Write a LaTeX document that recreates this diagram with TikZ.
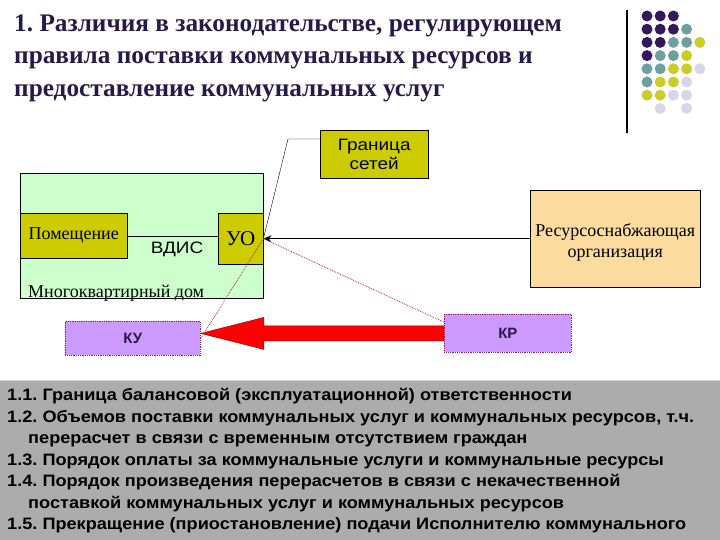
\documentclass[tikz,border=0pt]{standalone}
\usepackage{fontspec}
\setmainfont{Liberation Serif}
\setsansfont{Liberation Sans}
\newfontfamily\widesans[FakeStretch=1.15]{Liberation Sans}
\newfontfamily\listsans[FakeStretch=1.1]{Liberation Sans}
\usetikzlibrary{arrows.meta,calc}

\definecolor{titlecol}{RGB}{38,26,72}
\definecolor{housegreen}{RGB}{204,255,204}
\definecolor{olivefill}{RGB}{204,204,0}
\definecolor{supplyfill}{RGB}{251,219,158}
\definecolor{lilac}{RGB}{204,153,255}
\definecolor{lilacedge}{RGB}{150,30,90}
\definecolor{dotline}{RGB}{180,50,50}
\definecolor{panelgray}{RGB}{172,172,172}
\definecolor{dotP}{RGB}{52,24,92}
\definecolor{dotT}{RGB}{111,160,160}
\definecolor{dotY}{RGB}{204,204,40}
\definecolor{dotL}{RGB}{214,214,232}

\tikzset{
  box/.style={draw, inner sep=0pt, anchor=north west},
  olivebox/.style={box, fill=olivefill},
  lilacbox/.style={box, fill=lilac, draw=lilacedge, densely dotted, thick,
    font=\sffamily\bfseries\fontsize{15}{18}\selectfont, text=titlecol},
  redline/.style={dotline, densely dotted, thick}
}

\begin{document}
\frenchspacing
\begin{tikzpicture}[x=1pt, y=-1pt]
    \fill[white] (0,0) rectangle (720,540);
    \useasboundingbox (0,0) rectangle (720,540);
    % title and corner decoration
    \node[anchor=north west, inner sep=0pt, align=left, text=titlecol,
      font=\bfseries\fontsize{25.3}{32.5}\selectfont] (title) at (14,14.5)
      {1. Различия в законодательстве, регулирующем\\
       правила поставки коммунальных ресурсов и\\
       предоставление коммунальных услуг};
    \draw[line width=1.2pt] (627,10) -- (627,133);
    \foreach \c/\r/\col in {0/0/dotP,1/0/dotP,2/0/dotP,
        0/1/dotP,1/1/dotP,2/1/dotP,3/1/dotT,
        0/2/dotP,1/2/dotP,2/2/dotT,3/2/dotT,4/2/dotY,
        0/3/dotP,1/3/dotT,2/3/dotT,3/3/dotY,
        0/4/dotT,1/4/dotT,2/4/dotY,3/4/dotY,4/4/dotL,
        0/5/dotT,1/5/dotY,2/5/dotY,3/5/dotL,
        0/6/dotY,1/6/dotY,2/6/dotL,3/6/dotL,
        1/7/dotL,3/7/dotL}
      \fill[\col] (647+13.2*\c,16+13.2*\r) circle (5.5);
    % house
    \node[box, fill=housegreen, minimum width=243pt, minimum height=125pt] (house) at (20,173) {};
    \node[anchor=base west, inner sep=0pt, font=\fontsize{18}{20}\selectfont] (houselabel) at (28,297) {Многоквартирный дом};
    \node[olivebox, minimum width=107pt, minimum height=45pt, font=\fontsize{18}{20}\selectfont] (room) at (20,213) {Помещение};
    \node[olivebox, minimum width=45pt, minimum height=51pt, font=\fontsize{21}{23}\selectfont] (uo) at (218,213) {УО};
    \draw (room.east) -- (room.east -| uo.west);
    \node[font=\widesans\fontsize{16.5}{18}\selectfont] (vdis) at (177,249) {ВДИС};
    % boundary and supplier
    \node[olivebox, minimum width=108pt, minimum height=48pt, align=center,
      font=\widesans\fontsize{16.5}{19}\selectfont] (border) at (320,130) {Граница\\сетей};
    \draw ($(border.north west)+(0,9)$) -- ++(-32,0) -- (uo.east);
    \node[box, fill=supplyfill, minimum width=170pt, minimum height=97pt] (supply) at (530,190) {};
    \node[align=center, font=\fontsize{18}{21.5}\selectfont] (supplytext) at ($(supply.center)+(0,4)$)
      {Ресурсоснабжающая\\организация};
    \draw[line width=1.3pt, -{Stealth[length=8pt, width=7pt]}] (supply.west |- uo.east) -- (uo.east);
    % services and resources
    \node[lilacbox, minimum width=135pt, minimum height=34pt] (ku) at (65,321) {КУ};
    \node[lilacbox, minimum width=127pt, minimum height=38pt] (kr) at (444,314) {КР};
    \draw[fill=red, draw=red!55!black] ($(kr.west)+(0,-7.5)$) -- ($(ku.east |- kr.west)+(63,-7.5)$)
      -- ++(0,-8.5) -- (ku.east |- kr.west) -- ($(ku.east |- kr.west)+(63,16)$)
      -- ++(0,-8.5) -- ($(kr.west)+(0,7.5)$) -- cycle;
    \draw[redline] (uo.east) -- (kr.170);
    \draw[redline] (uo.east) -- (ku.east);
    % list
    \fill[panelgray] (0,380) rectangle (720,540);
    \draw[gray!35, line width=1.5pt] (0,380.5) -- (720,380.5);
    \node[anchor=north west, inner sep=0pt, align=left,
      font=\listsans\bfseries\fontsize{16.5}{21.5}\selectfont] (list) at (7,388.5)
      {1.1. Граница балансовой (эксплуатационной) ответственности\\
       1.2. Объемов поставки коммунальных услуг и коммунальных ресурсов, т.ч.\\
       \hspace*{21pt}перерасчет в связи с временным отсутствием граждан\\
       1.3. Порядок оплаты за коммунальные услуги и коммунальные ресурсы\\
       1.4. Порядок произведения перерасчетов в связи с некачественной\\
       \hspace*{21pt}поставкой коммунальных услуг и коммунальных ресурсов\\
       1.5. Прекращение (приостановление) подачи Исполнителю коммунального};
\end{tikzpicture}
\end{document}
